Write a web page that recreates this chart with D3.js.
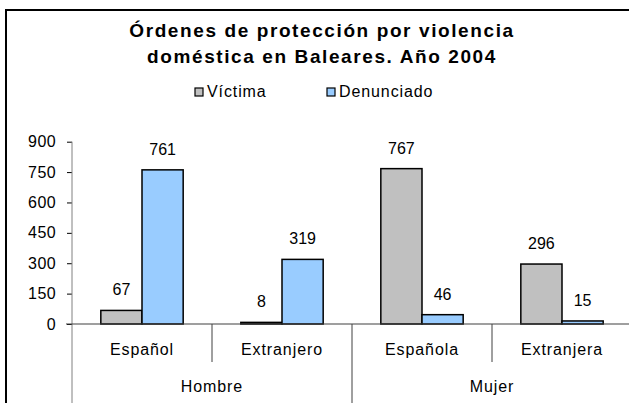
<!DOCTYPE html>
<html>
<head>
    <meta charset="utf-8">
    <title>Órdenes de protección</title>
    <script src="https://d3js.org/d3.v7.min.js"></script>
    <style>
        body {
            margin: 0;
            background: #fff;
            font-family: "Liberation Sans", Arial, sans-serif;
        }
        #chart {
            width: 629px;
            height: 403px;
        }
        .lbl {
            font-size: 16px;
            letter-spacing: 0.9px;
        }
    </style>
</head>
<body>
    <div id="chart"></div>
    <script>
        // Data
        const groups = ["Hombre", "Mujer"];
        const categories = ["Español", "Extranjero", "Española", "Extranjera"];
        const categoryGroup = ["Hombre", "Hombre", "Mujer", "Mujer"];
        const series = ["Víctima", "Denunciado"];
        const victima = [67, 8, 767, 296];
        const denunciado = [761, 319, 46, 15];
        const yTicks = [0, 150, 300, 450, 600, 750, 900];
        const colors = ["#c0c0c0", "#99ccff"];

        const width = 629, height = 403;
        const svg = d3.select("#chart")
            .append("svg")
            .attr("width", width)
            .attr("height", height);

        // chart frame (only top and left visible)
        svg.append("rect")
            .attr("x", 6).attr("y", 10)
            .attr("width", 700).attr("height", 500)
            .attr("fill", "none")
            .attr("stroke", "#000")
            .attr("stroke-width", 2);

        // Title
        const title = svg.append("text")
            .attr("text-anchor", "middle")
            .style("font-size", "19px")
            .style("font-weight", "bold")
            .style("letter-spacing", "1.6px");
        title.append("tspan").attr("x", 322).attr("y", 37).text("Órdenes de protección por violencia");
        title.append("tspan").attr("x", 322).attr("y", 63).text("doméstica en Baleares. Año 2004");

        // Legend
        const legendX = [195, 327];
        const legend = svg.append("g").selectAll("g")
            .data(series)
            .join("g")
            .attr("transform", (d, i) => `translate(${legendX[i]},88)`);
        legend.append("rect")
            .attr("width", 8).attr("height", 8)
            .attr("fill", (d, i) => colors[i])
            .attr("stroke", "#000")
            .attr("stroke-width", 1.2);
        legend.append("text")
            .attr("class", "lbl")
            .attr("x", 12).attr("y", 9)
            .text(d => d);

        // Scales
        const y = d3.scaleLinear().domain([0, 900]).range([324, 141.7]);
        const x = d3.scaleBand().domain(categories).range([72, 632]);
        const xs = d3.scaleBand().domain(series).range([0, x.bandwidth()]).paddingOuter(0.7);

        // Y axis
        const yAxis = svg.append("g")
            .attr("transform", "translate(72,0)")
            .call(d3.axisLeft(y).tickValues(yTicks).tickSize(5).tickPadding(11));
        yAxis.select(".domain").remove();
        yAxis.selectAll(".tick line").attr("stroke", "#000");
        yAxis.selectAll("text")
            .style("font-size", "16px")
            .style("letter-spacing", "0.4px")
            .style("font-family", "'Liberation Sans', Arial, sans-serif")
            .attr("fill", "#000");
        svg.append("line")
            .attr("x1", 72).attr("x2", 72)
            .attr("y1", y(900)).attr("y2", height)
            .attr("stroke", "#808080");

        // Bars
        const rows = categories.map((c, i) => ({ cat: c, values: [victima[i], denunciado[i]] }));
        const barG = svg.append("g").selectAll("g")
            .data(rows)
            .join("g")
            .attr("transform", d => `translate(${x(d.cat)},0)`);
        barG.selectAll("rect")
            .data(d => d.values.map((v, i) => ({ s: series[i], v: v, i: i })))
            .join("rect")
            .attr("x", d => xs(d.s))
            .attr("y", d => y(d.v))
            .attr("width", xs.bandwidth())
            .attr("height", d => y(0) - y(d.v))
            .attr("fill", d => colors[d.i])
            .attr("stroke", "#000")
            .attr("stroke-width", 1.5);
        barG.selectAll("text.val")
            .data(d => d.values.map((v, i) => ({ s: series[i], v: v })))
            .join("text")
            .attr("class", "val")
            .attr("x", d => xs(d.s) + xs.bandwidth() / 2)
            .attr("y", d => y(d.v) - 15)
            .attr("text-anchor", "middle")
            .style("font-size", "16px")
            .text(d => d.v);

        // zero line
        svg.append("line")
            .attr("x1", 66).attr("x2", width)
            .attr("y1", y(0)).attr("y2", y(0))
            .attr("stroke", "#404040")
            .attr("stroke-width", 1.2);

        // Category axis: labels and dividers
        categories.forEach((c, i) => {
            const x0 = x(c);
            const isGroupStart = i === 0 || categoryGroup[i] !== categoryGroup[i - 1];
            if (i > 0) {
                svg.append("line")
                    .attr("x1", x0).attr("x2", x0)
                    .attr("y1", y(0)).attr("y2", isGroupStart ? height : 362)
                    .attr("stroke", "#404040");
            }
            svg.append("text")
                .attr("class", "lbl")
                .attr("x", x0 + x.bandwidth() / 2)
                .attr("y", 355)
                .attr("text-anchor", "middle")
                .text(c);
        });
        groups.forEach(g => {
            const cats = categories.filter((c, i) => categoryGroup[i] === g);
            const gx = (x(cats[0]) + x(cats[cats.length - 1]) + x.bandwidth()) / 2;
            svg.append("text")
                .attr("class", "lbl")
                .attr("x", gx)
                .attr("y", 392)
                .attr("text-anchor", "middle")
                .text(g);
        });
    </script>
</body>
</html>
